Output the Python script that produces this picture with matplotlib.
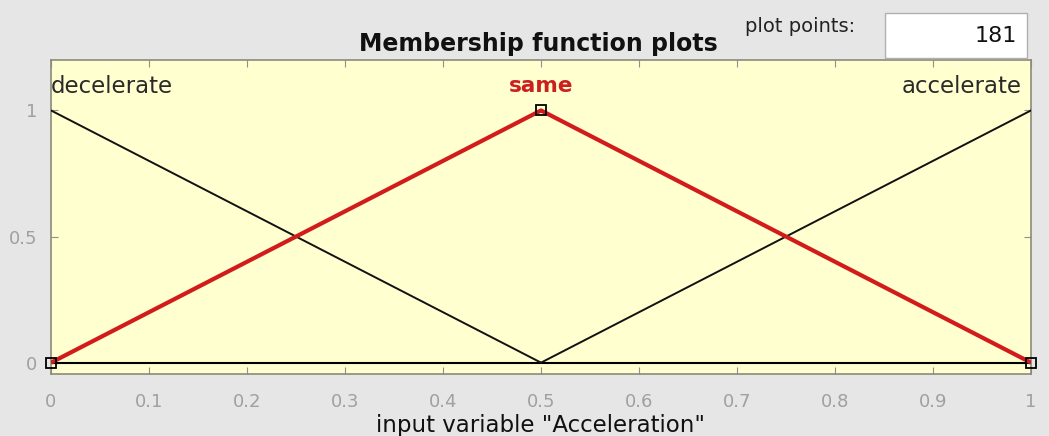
import matplotlib
matplotlib.use("Agg")
import matplotlib.pyplot as plt
from matplotlib.patches import Rectangle

plt.rcParams['font.family'] = ['DejaVu Sans']

# Data
x_range = [0.0, 1.0]
mf_names = ["decelerate", "same", "accelerate"]
mf_x = [[0.0, 0.5], [0.0, 0.5, 1.0], [0.5, 1.0]]
mf_y = [[1.0, 0.0], [0.0, 1.0, 0.0], [0.0, 1.0]]
selected = "same"
xticks = [0, 0.1, 0.2, 0.3, 0.4, 0.5, 0.6, 0.7, 0.8, 0.9, 1]
xtick_labels = ["0", "0.1", "0.2", "0.3", "0.4", "0.5", "0.6", "0.7", "0.8", "0.9", "1"]
yticks = [0, 0.5, 1]
ytick_labels = ["0", "0.5", "1"]
plot_points = "181"

fig = plt.figure(figsize=(10.49, 4.36), dpi=100)
fig.patch.set_facecolor('#e6e6e6')
ax = fig.add_axes([51/1049, 1 - 374/436, (1031-51)/1049, (374-60)/436])
ax.set_facecolor('#ffffcf')
ax.set_xlim(x_range)
ax.set_ylim(-0.045, 1.2)

# baseline
ax.plot(x_range, [0, 0], color='black', lw=1.5, zorder=2)

for name, xs, ys in zip(mf_names, mf_x, mf_y):
    if name == selected:
        ax.plot(xs, ys, color='#d21c1c', lw=3.0, zorder=4, solid_capstyle='butt')
        ax.plot(xs, ys, ls='none', marker='s', ms=7, mfc='none', mec='black', mew=1.3, zorder=5, clip_on=False)
    else:
        ax.plot(xs, ys, color='#111111', lw=1.4, zorder=3)

# labels above peaks
ax.text(0.0, 1.095, "decelerate", ha='left', va='center', fontsize=16.5, color='#2a2a2a')
ax.text(0.5, 1.095, "same", ha='center', va='center', fontsize=15.5, color='#cc2020', fontweight='bold')
ax.text(0.99, 1.095, "accelerate", ha='right', va='center', fontsize=16.5, color='#2a2a2a')

ax.set_xticks(xticks)
ax.set_xticklabels(xtick_labels)
ax.set_yticks(yticks)
ax.set_yticklabels(ytick_labels)
ax.tick_params(axis='both', direction='in', length=5, color='#909090', labelcolor='#a0a0a0',
               labelsize=13, top=True, right=True)
ax.tick_params(axis='x', pad=14)
ax.tick_params(axis='y', pad=10)
for s in ax.spines.values():
    s.set_color('#8a8a7a')
    s.set_linewidth(1.2)

ax.set_xlabel('input variable "Acceleration"', fontsize=16.5, color='#111111', labelpad=2)

fig.text(538/1049, 1 - 44/436, "Membership function plots", ha='center', va='center',
         fontsize=17, fontweight='bold', color='#111111')
fig.text(745/1049, 1 - 27/436, "plot points:", ha='left', va='center', fontsize=14, color='#222222')
box = Rectangle((885/1049, 1 - 58/436), (1027-885)/1049, (58-13)/436, transform=fig.transFigure,
                facecolor='white', edgecolor='#b0b0b0', lw=1)
fig.patches.append(box)
fig.text(1017/1049, 1 - 36/436, plot_points, ha='right', va='center', fontsize=16, color='#111111')

fig.savefig('out.png', dpi=100, facecolor=fig.get_facecolor())
